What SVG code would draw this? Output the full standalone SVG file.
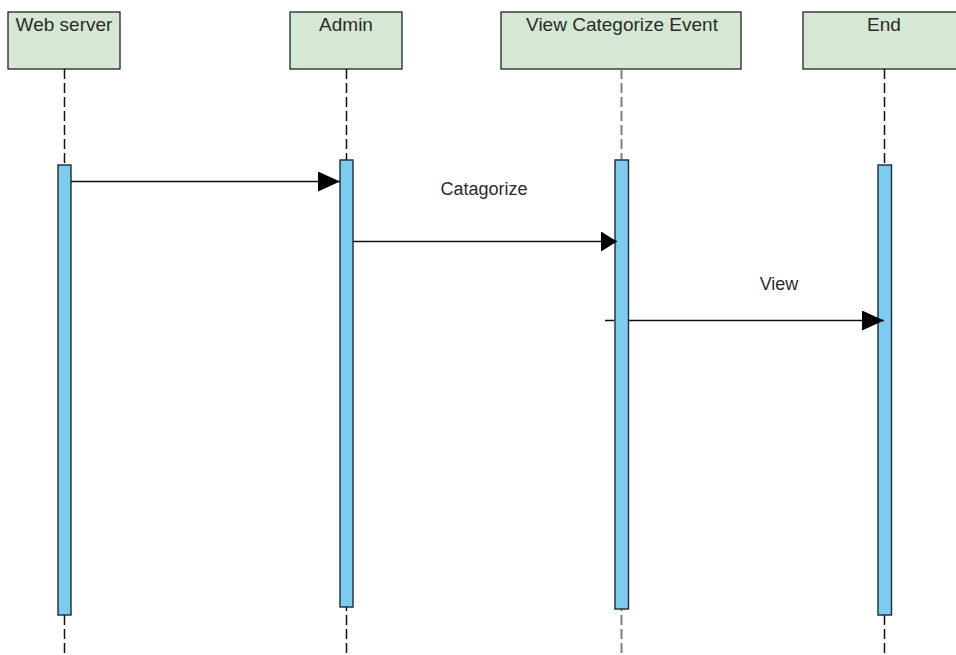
<svg xmlns="http://www.w3.org/2000/svg" width="956" height="655" viewBox="0 0 956 655">
  <style>
    .head { fill: #d5e8d4; stroke: #222; stroke-width: 1.3; }
    .label { font-family: "Liberation Sans", Arial, sans-serif; font-size: 19px; fill: #2b2b2b; text-anchor: middle; }
    .msg { font-family: "Liberation Sans", Arial, sans-serif; font-size: 18px; fill: #2b2b2b; text-anchor: middle; }
    .life { stroke: #111; stroke-width: 1.5; stroke-dasharray: 10 4; fill: none; }
    .life.grey { stroke: #808080; stroke-width: 2; }
    .act { fill: #7ecbf0; stroke: #1c2a36; stroke-width: 1.4; }
    .arrow { stroke: #111; stroke-width: 1.5; fill: none; }
  </style>
  <defs>
    <marker id="head-lg" markerWidth="22" markerHeight="20" refX="22" refY="10" orient="auto" markerUnits="userSpaceOnUse">
      <path d="M0,0 L22,10 L0,20 Z" fill="#000"/>
    </marker>
    <marker id="head-sm" markerWidth="16" markerHeight="20" refX="16" refY="10" orient="auto" markerUnits="userSpaceOnUse">
      <path d="M0,0 L16,10 L0,20 Z" fill="#000"/>
    </marker>
  </defs>
  <rect width="956" height="655" fill="#fff"/>

  <g id="web-server">
    <rect class="head" x="8" y="12" width="112" height="57"/>
    <text class="label" x="64" y="31">Web server</text>
    <line class="life" x1="64.5" y1="69" x2="64.5" y2="655"/>
    <rect class="act" x="58" y="165" width="13" height="450"/>
  </g>

  <g id="admin">
    <rect class="head" x="290" y="12" width="112" height="57"/>
    <text class="label" x="346" y="31">Admin</text>
    <line class="life" x1="346.5" y1="69" x2="346.5" y2="655"/>
    <rect class="act" x="340" y="160" width="13" height="447"/>
  </g>

  <g id="view-categorize-event">
    <rect class="head" x="501" y="12" width="240" height="57"/>
    <text class="label" x="622" y="31">View Categorize Event</text>
    <line class="life grey" x1="621.5" y1="69" x2="621.5" y2="655"/>
    <rect class="act" x="615" y="160" width="13.5" height="449"/>
  </g>

  <g id="end">
    <rect class="head" x="803" y="12" width="162" height="57"/>
    <text class="label" x="884" y="31">End</text>
    <line class="life" x1="884.5" y1="69" x2="884.5" y2="655"/>
    <rect class="act" x="878" y="165" width="13.5" height="450"/>
  </g>

  <g id="connectors">
    <line class="arrow" x1="71" y1="181.5" x2="340" y2="181.5" marker-end="url(#head-lg)"/>
    <line class="arrow" x1="353" y1="241.5" x2="617" y2="241.5" marker-end="url(#head-sm)"/>
    <text class="msg" x="484" y="195">Catagorize</text>
    <!-- passes behind the activation bar of the source lifeline -->
    <line class="arrow" x1="605" y1="320.5" x2="884" y2="320.5" stroke-dasharray="9 14 300" marker-end="url(#head-lg)"/>
    <text class="msg" x="779" y="290">View</text>
  </g>
</svg>
